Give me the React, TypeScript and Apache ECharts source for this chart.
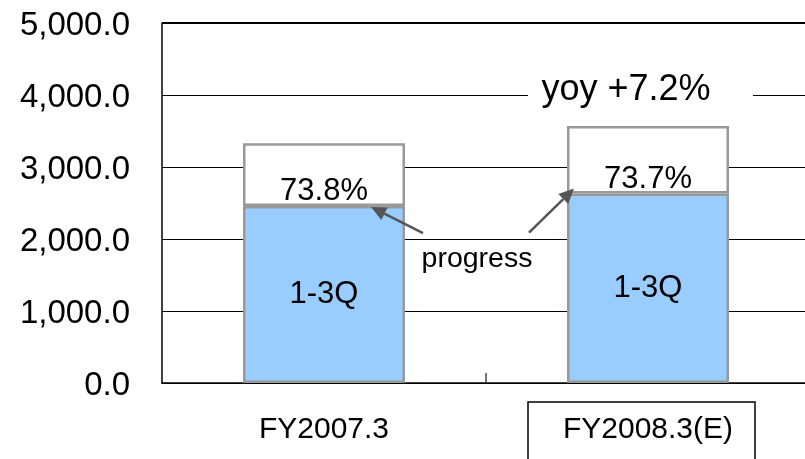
import React, { useEffect, useRef } from 'react';
import * as echarts from 'echarts';

const categories = ['FY2007.3', 'FY2008.3(E)'];
const q13Values = [2458, 2631];
const fullYearValues = [3330, 3570];
const yMin = 0;
const yMax = 5000;
const yInterval = 1000;

const FONT = '"Liberation Sans", Arial, Helvetica, sans-serif';

function fmtY(v: number): string {
  const fixed = v.toFixed(1);
  const [int, dec] = fixed.split('.');
  return int.replace(/\B(?=(\d{3})+(?!\d))/g, ',') + '.' + dec;
}

export default function App() {
  const ref = useRef<HTMLDivElement>(null);
  useEffect(() => {
    if (!ref.current) return;
    document.body.style.overflow = 'hidden';
    const chart = echarts.init(ref.current, null, { renderer: 'svg' });
    const q4Values = fullYearValues.map((v, i) => v - q13Values[i]);
    const pct = q13Values.map((v, i) => ((v / fullYearValues[i]) * 100).toFixed(1) + '%');
    const yoy = ((fullYearValues[1] / fullYearValues[0] - 1) * 100).toFixed(1);

    chart.setOption({
      animation: false,
      textStyle: { fontFamily: FONT },
      grid: { left: 162, top: 23, width: 648, height: 360, containLabel: false },
      xAxis: {
        type: 'category',
        data: categories,
        axisLine: { lineStyle: { color: '#000', width: 1.5 } },
        axisTick: { show: false },
        axisLabel: {
          margin: 29,
          fontSize: 30,
          fontFamily: FONT,
          color: '#000',
          verticalAlign: 'top',
          lineHeight: 30,
        },
      },
      yAxis: {
        type: 'value',
        min: yMin,
        max: yMax,
        interval: yInterval,
        axisLine: { show: true, lineStyle: { color: '#000', width: 1.5 } },
        axisTick: { show: false },
        splitLine: { lineStyle: { color: '#000', width: 1 } },
        axisLabel: {
          margin: 32,
          fontSize: 33,
          fontFamily: FONT,
          color: '#000',
          formatter: (v: number) => fmtY(v),
        },
      },
      series: [
        {
          type: 'bar',
          name: '1-3Q',
          stack: 'total',
          data: q13Values,
          barWidth: 162,
          itemStyle: { color: '#99CCFF', borderColor: '#999999', borderWidth: 2.5 },
          label: {
            show: true,
            position: 'inside',
            formatter: '1-3Q',
            fontSize: 31,
            fontFamily: FONT,
            color: '#000',
            textBorderWidth: 0,
            offset: [0, -2],
          },
          z: 2,
        },
        {
          type: 'bar',
          name: '4Q',
          stack: 'total',
          data: q4Values,
          barWidth: 162,
          itemStyle: { color: '#ffffff', borderColor: '#999999', borderWidth: 2.5 },
          label: {
            show: true,
            position: 'insideBottom',
            distance: 1,
            formatter: (p: any) => pct[p.dataIndex],
            fontSize: 31,
            fontFamily: FONT,
            color: '#000',
            textBorderWidth: 0,
          },
          z: 2,
        },
      ],
    });

    const px = (c: number, v: number) => chart.convertToPixel({ gridIndex: 0 }, [c, v]) as number[];
    const [x0, d0] = px(0, q13Values[0]);
    const [x1, d1] = px(1, q13Values[1]);
    const [, y0] = px(0, 0);
    const half = 81;
    const [, yTop] = px(0, yMax);
    const [, y4000] = px(0, 4000);
    const xMid = (x0 + x1) / 2;

    const arrow = (tail: number[], tip: number[]) => {
      const dx = tip[0] - tail[0];
      const dy = tip[1] - tail[1];
      const len = Math.sqrt(dx * dx + dy * dy);
      const ux = dx / len;
      const uy = dy / len;
      const headLen = 15;
      const headW = 7;
      const bx = tip[0] - ux * headLen;
      const by = tip[1] - uy * headLen;
      return [
        {
          type: 'line',
          shape: { x1: tail[0], y1: tail[1], x2: bx, y2: by },
          style: { stroke: '#555555', lineWidth: 2.5 },
          z: 10,
        },
        {
          type: 'polygon',
          shape: {
            points: [
              [tip[0], tip[1]],
              [bx - uy * headW, by + ux * headW],
              [bx + uy * headW, by - ux * headW],
            ],
          },
          style: { fill: '#555555' },
          z: 10,
        },
      ];
    };

    const yoyY = px(1, 4110)[1];
    const progY = px(0, 1750)[1];

    chart.setOption({
      graphic: [
        {
          type: 'line',
          shape: { x1: 162, y1: yTop, x2: 810, y2: yTop },
          style: { stroke: '#000', lineWidth: 2 },
          z: 5,
        },
        {
          type: 'line',
          shape: { x1: xMid, y1: y0 - 10, x2: xMid, y2: y0 },
          style: { stroke: '#444', lineWidth: 1.5 },
          z: 5,
        },
        {
          type: 'rect',
          shape: { x: x1 - 120, y: y0 + 19, width: 227, height: 80 },
          style: { fill: 'none', stroke: '#000', lineWidth: 1.5 },
          z: 5,
        },
        {
          type: 'rect',
          shape: { x: 528, y: y4000 - 30, width: 225, height: 40 },
          style: { fill: '#ffffff' },
          z: 5,
        },
        {
          type: 'text',
          x: x1 - 22,
          y: yoyY,
          style: {
            text: `yoy +${yoy}%`,
            fontSize: 36,
            fontFamily: FONT,
            fill: '#000',
            align: 'center',
            verticalAlign: 'middle',
          },
          z: 6,
        },
        {
          type: 'text',
          x: xMid - 9,
          y: progY,
          style: {
            text: 'progress',
            fontSize: 28.5,
            fontFamily: FONT,
            fill: '#000',
            align: 'center',
            verticalAlign: 'middle',
          },
          z: 6,
        },
        ...arrow([x0 + 99, d0 + 27], [x0 + half - 34, d0 + 1]),
        ...arrow([x1 - 119, d1 + 39], [x1 - half + 7, d1 - 5]),
      ],
    });

    return () => chart.dispose();
  }, []);
  return <div ref={ref} style={{ position: 'fixed', left: 0, top: 0, width: 815, height: 459 }} />;
}
